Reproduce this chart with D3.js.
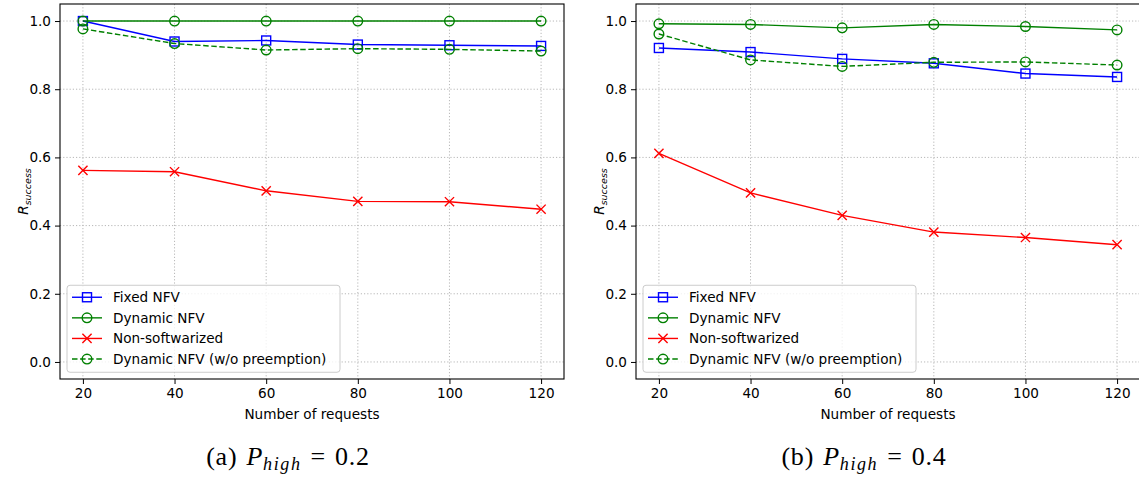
<!DOCTYPE html>
<html>
<head>
<meta charset="utf-8">
<script src="https://cdn.jsdelivr.net/npm/d3@7"></script>
<style>
  html, body { margin: 0; padding: 0; background: #fff; }
  svg { display: block; font-family: "DejaVu Sans", sans-serif; }
</style>
</head>
<body>
<svg id="chart" width="1139" height="477"></svg>
<script>
// Number of requests on the x axis
const requests = [20, 40, 60, 80, 100, 120];
const xTicks = [20, 40, 60, 80, 100, 120];
const yTicks = [0.0, 0.2, 0.4, 0.6, 0.8, 1.0];

const seriesNames = ["Fixed NFV", "Dynamic NFV", "Non-softwarized", "Dynamic NFV (w/o preemption)"];

// Panel (a): P_high = 0.2
const fixedA    = [1.000, 0.940, 0.943, 0.931, 0.929, 0.927];
const dynamicA  = [1.000, 1.000, 1.000, 1.000, 1.000, 1.000];
const nonSoftA  = [0.562, 0.558, 0.502, 0.471, 0.470, 0.448];
const noPreA    = [0.977, 0.934, 0.915, 0.919, 0.917, 0.912];

// Panel (b): P_high = 0.4
const fixedB    = [0.921, 0.909, 0.889, 0.876, 0.846, 0.836];
const dynamicB  = [0.992, 0.990, 0.980, 0.990, 0.984, 0.974];
const nonSoftB  = [0.612, 0.496, 0.430, 0.381, 0.365, 0.344];
const noPreB    = [0.962, 0.886, 0.867, 0.879, 0.880, 0.871];

const captionA = { tag: "(a)", value: "0.2" };
const captionB = { tag: "(b)", value: "0.4" };

const styles = [
  { color: "#0000ff", marker: "square", dash: null },
  { color: "#008000", marker: "circle", dash: null },
  { color: "#ff0000", marker: "x",      dash: null },
  { color: "#008000", marker: "circle", dash: "5.5,2.6" }
];

const svg = d3.select("#chart");
const FS = 13.6;
const SERIF = "'Liberation Serif', 'DejaVu Serif', serif";

function drawMarker(g, kind, x, y, color) {
  if (kind === "square") {
    const s = 9;
    g.append("rect").attr("x", x - s / 2).attr("y", y - s / 2)
      .attr("width", s).attr("height", s)
      .attr("fill", "none").attr("stroke", color).attr("stroke-width", 1.4);
  } else if (kind === "circle") {
    g.append("circle").attr("cx", x).attr("cy", y).attr("r", 4.8)
      .attr("fill", "none").attr("stroke", color).attr("stroke-width", 1.4);
  } else {
    const s = 4.6;
    g.append("path")
      .attr("d", `M${x - s},${y - s}L${x + s},${y + s}M${x - s},${y + s}L${x + s},${y - s}`)
      .attr("stroke", color).attr("stroke-width", 1.4).attr("fill", "none");
  }
}

function panel(left, data, caption) {
  const top = 4, width = 504, height = 375;
  const x = d3.scaleLinear().domain([15, 125]).range([left, left + width]);
  const y = d3.scaleLinear().domain([-0.05, 1.05]).range([top + height, top]);
  const g = svg.append("g");

  // dotted grid
  const grid = g.append("g").attr("stroke", "#b0b0b0").attr("stroke-width", 0.9)
    .attr("stroke-dasharray", "1.2,2");
  xTicks.forEach(t => grid.append("line")
    .attr("x1", x(t)).attr("x2", x(t)).attr("y1", top).attr("y2", top + height));
  yTicks.forEach(t => grid.append("line")
    .attr("x1", left).attr("x2", left + width).attr("y1", y(t)).attr("y2", y(t)));

  // axes
  const xAxis = d3.axisBottom(x).tickValues(xTicks).tickSize(5).tickPadding(4)
    .tickFormat(d3.format("d"));
  const yAxis = d3.axisLeft(y).tickValues(yTicks).tickSize(5).tickPadding(4)
    .tickFormat(d3.format(".1f"));
  const gx = g.append("g").attr("transform", `translate(0,${top + height})`).call(xAxis);
  const gy = g.append("g").attr("transform", `translate(${left},0)`).call(yAxis);
  [gx, gy].forEach(a => {
    a.select(".domain").remove();
    a.selectAll(".tick line").attr("stroke", "#000").attr("stroke-width", 1);
    a.selectAll(".tick text").attr("font-size", FS).attr("fill", "#000")
      .style("font-family", "'DejaVu Sans', sans-serif");
  });

  // series: line first, then its markers
  const line = d3.line().x((d, i) => x(requests[i])).y(d => y(d));
  data.forEach((vals, si) => {
    const st = styles[si];
    const sg = g.append("g");
    sg.append("path").datum(vals).attr("d", line)
      .attr("fill", "none").attr("stroke", st.color).attr("stroke-width", 1.4)
      .attr("stroke-dasharray", st.dash);
    vals.forEach((v, i) => drawMarker(sg, st.marker, x(requests[i]), y(v), st.color));
  });

  // frame
  g.append("rect").attr("x", left).attr("y", top).attr("width", width).attr("height", height)
    .attr("fill", "none").attr("stroke", "#000").attr("stroke-width", 1.1);

  // axis titles
  g.append("text").attr("x", left + width / 2).attr("y", top + height + 40)
    .attr("text-anchor", "middle").attr("font-size", FS).text("Number of requests");
  const yl = g.append("text")
    .attr("transform", `translate(${left - 32},${y(0.5)}) rotate(-90)`)
    .attr("text-anchor", "middle").attr("font-size", FS).attr("font-style", "italic");
  yl.append("tspan").text("R");
  yl.append("tspan").attr("font-size", 9.5).attr("dy", 3).text("success");

  // legend
  const lg = g.append("g").attr("transform", `translate(${left + 7},${y(0.225)})`);
  lg.append("rect").attr("width", 273).attr("height", 87).attr("rx", 3)
    .attr("fill", "#fff").attr("fill-opacity", 0.8).attr("stroke", "#cccccc");
  seriesNames.forEach((name, i) => {
    const st = styles[i];
    const cy = 12 + i * 20.6;
    lg.append("line").attr("x1", 5).attr("x2", 35).attr("y1", cy).attr("y2", cy)
      .attr("stroke", st.color).attr("stroke-width", 1.4).attr("stroke-dasharray", st.dash);
    drawMarker(lg, st.marker, 20, cy, st.color);
    lg.append("text").attr("x", 46).attr("y", cy + 5).attr("font-size", FS).text(name);
  });

  // caption below the panel
  const cap = g.append("text").attr("x", left + width / 2 - 24).attr("y", 465)
    .attr("text-anchor", "middle").attr("font-size", 26)
    .attr("letter-spacing", 0.8)
    .style("font-family", SERIF);
  cap.append("tspan").text(caption.tag);
  cap.append("tspan").attr("dx", 9).attr("font-style", "italic").text("P");
  cap.append("tspan").attr("font-style", "italic").attr("font-size", 18).attr("dy", 5)
    .attr("letter-spacing", 1.6).text("high");
  cap.append("tspan").attr("dy", -5).attr("dx", 9).text("=");
  cap.append("tspan").attr("dx", 9).text(caption.value);
}

panel(60, [fixedA, dynamicA, nonSoftA, noPreA], captionA);
panel(636, [fixedB, dynamicB, nonSoftB, noPreB], captionB);
</script>
</body>
</html>
